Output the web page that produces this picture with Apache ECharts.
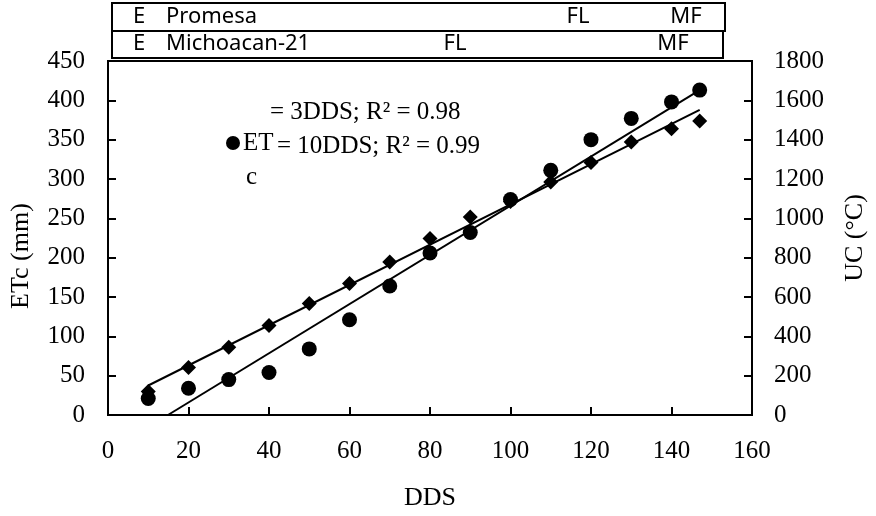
<!DOCTYPE html>
<html>
<head>
<meta charset="utf-8">
<script src="https://cdn.jsdelivr.net/npm/echarts@6/dist/echarts.min.js"></script>
<style>
  html, body { margin: 0; padding: 0; background: #fff; }
  #chart { width: 876px; height: 516px; }
</style>
</head>
<body>
<div id="chart"></div>
<script>
// ---- Data ----
const dds = [10, 20, 30, 40, 50, 60, 70, 80, 90, 100, 110, 120, 130, 140, 147];
const etc = [21, 34, 45, 54, 84, 121, 164, 206, 232, 274, 311, 350, 377, 398, 413];      // ETc (mm), left axis
const uc  = [120, 241, 344, 455, 567, 669, 778, 897, 1007, 1085, 1185, 1284, 1388, 1455, 1495]; // UC (°C), right axis
// Trendline end points
const etcTrendX = [14.9, 147];
const etcTrendY = [0, 413];
const ucTrendX = [10, 147];
const ucTrendY = [150, 1552];
// Axis ticks
const xTicks = { min: 0, max: 160, interval: 20 };
const yLeftTicks = { min: 0, max: 450, interval: 50 };
const yRightTicks = { min: 0, max: 1800, interval: 200 };
// Texts
const xName = 'DDS';
const yLeftName = 'ETc (mm)';
const yRightName = 'UC (°C)';
const eqEtc = '= 3DDS; R² = 0.98';
const eqUc = '= 10DDS; R² = 0.99';
const stage1 = ['E', 'Promesa', 'FL', 'MF'];
const stage2 = ['E', 'Michoacan-21', 'FL', 'MF'];

const serif = '"Liberation Serif", "DejaVu Serif", serif';
const sans = '"Noto Sans", "Liberation Sans", sans-serif';

const chart = echarts.init(document.getElementById('chart'), null, { renderer: 'canvas' });

function zip(a, b) { return a.map((v, i) => [v, b[i]]); }
const plain = v => String(v);

const axisCommon = {
  axisLine: { show: true, lineStyle: { color: '#000', width: 2 } },
  axisTick: { show: true, inside: true, length: 8, lineStyle: { color: '#000', width: 2 } },
  axisLabel: { color: '#000', fontFamily: serif, fontSize: 25, formatter: plain },
  splitLine: { show: false },
  nameTextStyle: { color: '#000', fontFamily: serif, fontSize: 26 }
};

const option = {
  backgroundColor: '#fff',
  animation: false,
  grid: { left: 107.5, right: 115.5, top: 61, bottom: 86, show: true, borderColor: '#000', borderWidth: 2, backgroundColor: 'transparent' },
  xAxis: Object.assign({}, axisCommon, {
    type: 'value', min: xTicks.min, max: xTicks.max, interval: xTicks.interval,
    name: xName, nameLocation: 'middle', nameGap: 70,
    axisLabel: Object.assign({}, axisCommon.axisLabel, { margin: 24 })
  }),
  yAxis: [
    Object.assign({}, axisCommon, {
      type: 'value', position: 'left', min: yLeftTicks.min, max: yLeftTicks.max, interval: yLeftTicks.interval,
      name: yLeftName, nameLocation: 'middle', nameGap: 74,
      nameTextStyle: Object.assign({}, axisCommon.nameTextStyle, { padding: [0, 36, 0, 0] }),
      axisLabel: Object.assign({}, axisCommon.axisLabel, { margin: 23 })
    }),
    Object.assign({}, axisCommon, {
      type: 'value', position: 'right', min: yRightTicks.min, max: yRightTicks.max, interval: yRightTicks.interval,
      name: yRightName, nameLocation: 'middle', nameGap: 90,
      axisLabel: Object.assign({}, axisCommon.axisLabel, { margin: 22 })
    })
  ],
  series: [
    {
      name: 'UC trend', type: 'line', yAxisIndex: 1, data: zip(ucTrendX, ucTrendY),
      showSymbol: false, symbol: 'none', lineStyle: { color: '#000', width: 2 }, z: 2
    },
    {
      name: 'ETc trend', type: 'line', yAxisIndex: 0, data: zip(etcTrendX, etcTrendY),
      showSymbol: false, symbol: 'none', lineStyle: { color: '#000', width: 2 }, z: 2
    },
    {
      name: 'UC', type: 'scatter', yAxisIndex: 1, data: zip(dds, uc),
      symbol: 'diamond', symbolSize: 15, itemStyle: { color: '#000', opacity: 1 }, z: 3
    },
    {
      name: 'ETc', type: 'scatter', yAxisIndex: 0, data: zip(dds, etc),
      symbol: 'circle', symbolSize: 15, itemStyle: { color: '#000', opacity: 1 }, z: 4
    }
  ],
  graphic: [
    // stage boxes
    { type: 'rect', shape: { x: 112, y: 3, width: 613, height: 28 }, style: { fill: '#fff', stroke: '#000', lineWidth: 2 } },
    { type: 'rect', shape: { x: 112, y: 31, width: 611, height: 27 }, style: { fill: '#fff', stroke: '#000', lineWidth: 2 } },
    { type: 'text', x: 133, y: 17, style: { text: stage1[0], font: '22px ' + sans, fill: '#000', textVerticalAlign: 'middle' } },
    { type: 'text', x: 166, y: 17, style: { text: stage1[1], font: '22px ' + sans, fill: '#000', textVerticalAlign: 'middle' } },
    { type: 'text', x: 578, y: 17, style: { text: stage1[2], font: '22px ' + sans, fill: '#000', textAlign: 'center', textVerticalAlign: 'middle' } },
    { type: 'text', x: 686, y: 17, style: { text: stage1[3], font: '22px ' + sans, fill: '#000', textAlign: 'center', textVerticalAlign: 'middle' } },
    { type: 'text', x: 133, y: 44, style: { text: stage2[0], font: '22px ' + sans, fill: '#000', textVerticalAlign: 'middle' } },
    { type: 'text', x: 166, y: 44, style: { text: stage2[1], font: '22px ' + sans, fill: '#000', textVerticalAlign: 'middle' } },
    { type: 'text', x: 455, y: 44, style: { text: stage2[2], font: '22px ' + sans, fill: '#000', textAlign: 'center', textVerticalAlign: 'middle' } },
    { type: 'text', x: 673, y: 44, style: { text: stage2[3], font: '22px ' + sans, fill: '#000', textAlign: 'center', textVerticalAlign: 'middle' } },
    // equation annotations
    { type: 'text', x: 270, y: 112, style: { text: eqEtc, font: '25px ' + serif, fill: '#000', textVerticalAlign: 'middle' } },
    { type: 'text', x: 277, y: 146, style: { text: eqUc, font: '25px ' + serif, fill: '#000', textVerticalAlign: 'middle' } },
    { type: 'circle', shape: { cx: 233, cy: 143, r: 7 }, style: { fill: '#000' } },
    { type: 'text', x: 243, y: 143, style: { text: 'ET', font: '25px ' + serif, fill: '#000', textVerticalAlign: 'middle' } },
    { type: 'text', x: 246, y: 177, style: { text: 'c', font: '25px ' + serif, fill: '#000', textVerticalAlign: 'middle' } }
  ]
};

chart.setOption(option);
</script>
</body>
</html>
